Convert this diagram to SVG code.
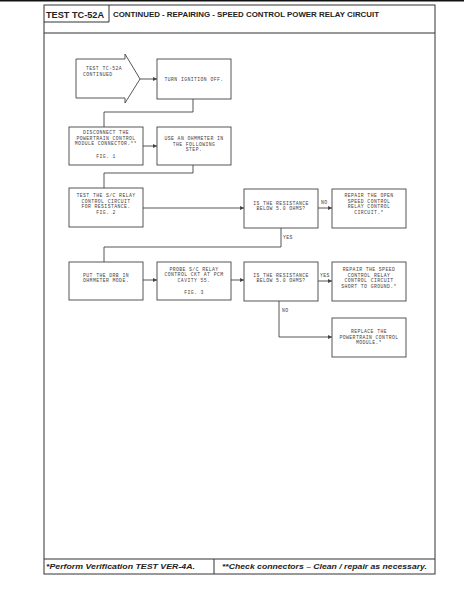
<svg xmlns="http://www.w3.org/2000/svg" width="464" height="595" viewBox="0 0 464 595">
<defs>
<style>
.frame{fill:none;stroke:#333;stroke-width:1}
.box{fill:#fff;stroke:#444;stroke-width:0.9}
.conn{fill:none;stroke:#444;stroke-width:0.9}
.t{font-family:"Liberation Mono","DejaVu Sans Mono",monospace;font-size:4.8px;letter-spacing:0.4px;fill:#444;text-anchor:middle}
.lbl{font-family:"Liberation Mono","DejaVu Sans Mono",monospace;font-size:4.8px;letter-spacing:0.4px;fill:#444}
.hd{font-family:"Liberation Sans",Arial,sans-serif;font-weight:bold;fill:#222}
.ft{font-family:"Liberation Sans",Arial,sans-serif;font-weight:bold;font-style:italic;font-size:7px;fill:#222}
</style>
<marker id="ah" viewBox="0 0 6 6" refX="6" refY="3" markerWidth="4" markerHeight="4" orient="auto" markerUnits="userSpaceOnUse">
<path d="M0,0 L6,3 L0,6 z" fill="#444"/>
</marker>
</defs>
<rect x="0" y="0" width="464" height="1.5" fill="#111"/>
<g id="frame">
<rect class="frame" x="44" y="5" width="391" height="569"/>
<line class="frame" x1="44" y1="33" x2="435" y2="33"/>
<polyline class="frame" points="44,22 109,22 109,5"/>
<line class="frame" x1="44" y1="559" x2="435" y2="559"/>
<line class="frame" x1="214" y1="559" x2="214" y2="574"/>
<text class="hd" x="46" y="18" font-size="9" textLength="58" lengthAdjust="spacingAndGlyphs">TEST TC-52A</text>
<text class="hd" x="113" y="17" font-size="6.5" textLength="266" lengthAdjust="spacingAndGlyphs">CONTINUED - REPAIRING - SPEED CONTROL POWER RELAY CIRCUIT</text>
<text class="ft" x="46" y="569" textLength="149" lengthAdjust="spacingAndGlyphs">*Perform Verification TEST VER-4A.</text>
<text class="ft" x="222" y="569" textLength="205" lengthAdjust="spacingAndGlyphs">**Check connectors – Clean / repair as necessary.</text>
</g>
<g id="connectors">
<line class="conn" x1="140" y1="79" x2="157" y2="79" marker-end="url(#ah)"/>
<polyline class="conn" points="193,99 193,112 104,112 104,127"/>
<line class="conn" x1="143" y1="146" x2="157" y2="146" marker-end="url(#ah)"/>
<polyline class="conn" points="193,165 193,173 104,173 104,188"/>
<line class="conn" x1="143" y1="208" x2="244" y2="208" marker-end="url(#ah)"/>
<line class="conn" x1="318" y1="208" x2="332" y2="208" marker-end="url(#ah)"/>
<polyline class="conn" points="281,228 281,247 104,247 104,262"/>
<line class="conn" x1="143" y1="280" x2="157" y2="280" marker-end="url(#ah)"/>
<line class="conn" x1="231" y1="280" x2="244" y2="280" marker-end="url(#ah)"/>
<line class="conn" x1="318" y1="281" x2="332" y2="281" marker-end="url(#ah)"/>
<polyline class="conn" points="279,301 279,337 332,337" marker-end="url(#ah)"/>
<text class="lbl" x="321" y="204">NO</text>
<text class="lbl" x="283" y="239">YES</text>
<text class="lbl" x="320" y="277">YES</text>
<text class="lbl" x="282" y="312">NO</text>
</g>
<g id="start">
<path class="box" d="M76,59 L125,59 L125,54 L140,79 L125,103 L125,98 L76,98 Z"/>
<text class="lbl" x="86" y="70">TEST TC-52A</text>
<text class="lbl" x="83" y="76">CONTINUED</text>
</g>
<g id="turn-off">
<rect class="box" x="157" y="59" width="74" height="40"/>
<text class="t" x="194" y="81">TURN IGNITION OFF.</text>
</g>
<g id="disconnect">
<rect class="box" x="69" y="127" width="74" height="38"/>
<text class="t" x="106" y="134">DISCONNECT THE</text>
<text class="t" x="106" y="139.5">POWERTRAIN CONTROL</text>
<text class="t" x="106" y="145">MODULE CONNECTOR.**</text>
<text class="t" x="106" y="158">FIG. 1</text>
</g>
<g id="ohmmeter">
<rect class="box" x="157" y="127" width="74" height="38"/>
<text class="t" x="194" y="140">USE AN OHMMETER IN</text>
<text class="t" x="194" y="145.5">THE FOLLOWING</text>
<text class="t" x="194" y="151">STEP.</text>
</g>
<g id="test-relay">
<rect class="box" x="69" y="188" width="74" height="39"/>
<text class="t" x="106" y="197">TEST THE S/C RELAY</text>
<text class="t" x="106" y="202.5">CONTROL CIRCUIT</text>
<text class="t" x="106" y="208">FOR RESISTANCE.</text>
<text class="t" x="106" y="213.5">FIG. 2</text>
</g>
<g id="resistance-1">
<rect class="box" x="244" y="189" width="74" height="39"/>
<text class="t" x="281" y="204.5">IS THE RESISTANCE</text>
<text class="t" x="281" y="210">BELOW 5.0 OHMS?</text>
</g>
<g id="repair-open">
<rect class="box" x="332" y="189" width="74" height="39"/>
<text class="t" x="369" y="197">REPAIR THE OPEN</text>
<text class="t" x="369" y="202.5">SPEED CONTROL</text>
<text class="t" x="369" y="208">RELAY CONTROL</text>
<text class="t" x="369" y="213.5">CIRCUIT.*</text>
</g>
<g id="drb">
<rect class="box" x="69" y="262" width="74" height="38"/>
<text class="t" x="106" y="276.5">PUT THE DRB IN</text>
<text class="t" x="106" y="282">OHMMETER MODE.</text>
</g>
<g id="probe">
<rect class="box" x="157" y="262" width="74" height="38"/>
<text class="t" x="194" y="270.5">PROBE S/C RELAY</text>
<text class="t" x="194" y="276">CONTROL CKT AT PCM</text>
<text class="t" x="194" y="281.5">CAVITY 55.</text>
<text class="t" x="194" y="294">FIG. 3</text>
</g>
<g id="resistance-2">
<rect class="box" x="244" y="262" width="74" height="39"/>
<text class="t" x="281" y="276.5">IS THE RESISTANCE</text>
<text class="t" x="281" y="282">BELOW 5.0 OHMS?</text>
</g>
<g id="repair-short">
<rect class="box" x="332" y="262" width="74" height="39"/>
<text class="t" x="369" y="271">REPAIR THE SPEED</text>
<text class="t" x="369" y="276.5">CONTROL RELAY</text>
<text class="t" x="369" y="282">CONTROL CIRCUIT</text>
<text class="t" x="369" y="287.5">SHORT TO GROUND.*</text>
</g>
<g id="replace-pcm">
<rect class="box" x="332" y="318" width="74" height="39"/>
<text class="t" x="369" y="333">REPLACE THE</text>
<text class="t" x="369" y="338.5">POWERTRAIN CONTROL</text>
<text class="t" x="369" y="344">MODULE.*</text>
</g>
</svg>
